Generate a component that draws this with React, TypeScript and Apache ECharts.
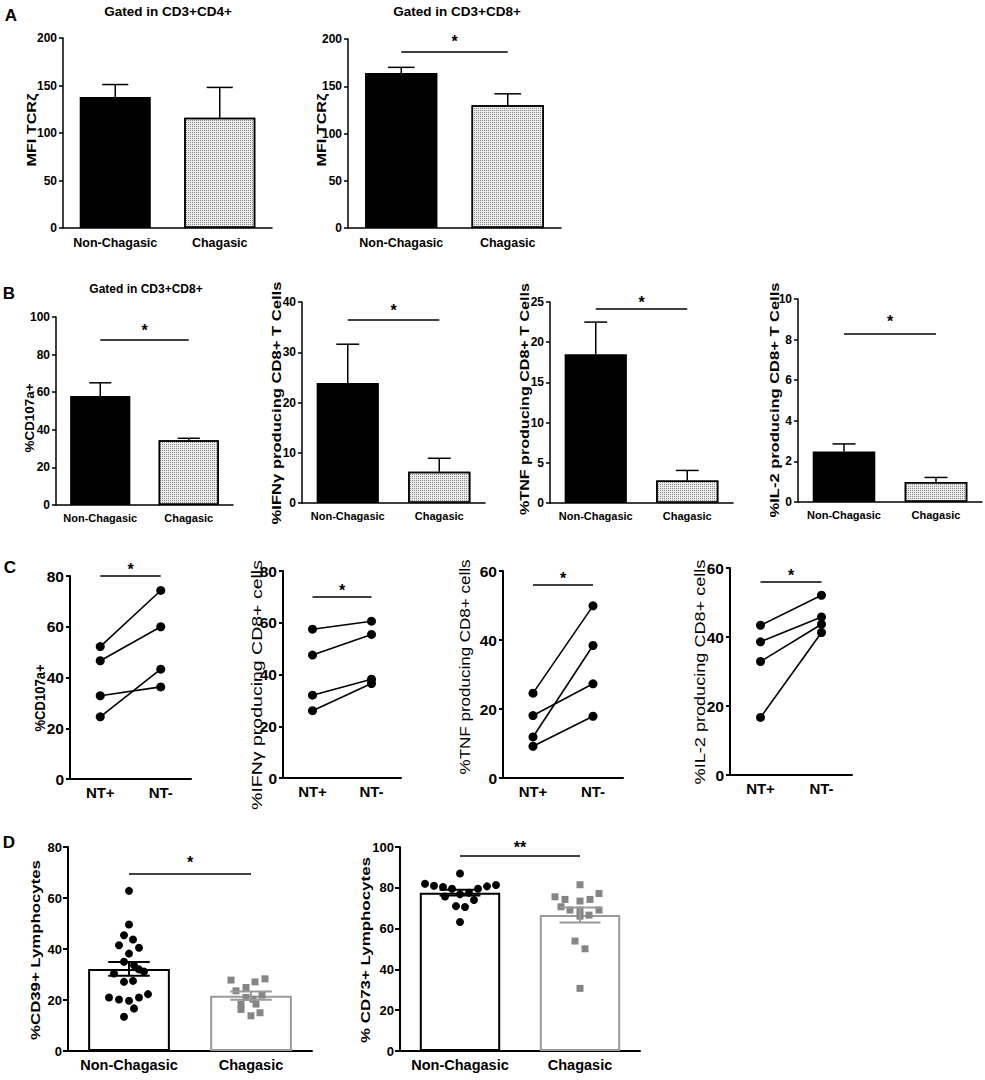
import React, { useEffect, useRef } from "react";
import * as echarts from "echarts";

// ---------------- DATA ----------------
const groups = ["Non-Chagasic", "Chagasic"];
const pairs = ["NT+", "NT-"];

// Panel A: MFI TCRζ
const tcrCD4Mean = [138, 116];
const tcrCD4Err = [13, 32];
const tcrCD8Mean = [164, 130];
const tcrCD8Err = [6, 12];
const tcrCD8Sig = 186;

// Panel B
const cd107Mean = [58, 34.5];
const cd107Err = [7, 1];
const cd107Sig = 88;
const ifnMean = [23.9, 6.2];
const ifnErr = [7.7, 2.7];
const ifnSig = 36.5;
const tnfMean = [18.5, 2.8];
const tnfErr = [4.0, 1.25];
const tnfSig = 24.1;
const il2Mean = [2.49, 0.98];
const il2Err = [0.37, 0.23];
const il2Sig = 8.3;

// Panel C (paired, NT+ -> NT-)
const cCd107Plus = [52.2, 46.6, 32.8, 24.5];
const cCd107Minus = [74.3, 60.0, 36.3, 43.3];
const cCd107Sig = 80;
const cIfnPlus = [57.5, 47.5, 32.0, 26.0];
const cIfnMinus = [60.6, 55.5, 38.2, 36.5];
const cIfnSig = 70;
const cTnfPlus = [24.6, 18.1, 11.9, 9.2];
const cTnfMinus = [49.9, 27.3, 38.4, 17.9];
const cTnfSig = 56;
const cIl2Plus = [43.4, 38.6, 32.9, 16.7];
const cIl2Minus = [52.1, 45.8, 43.7, 41.3];
const cIl2Sig = 56;

// Panel D
const cd39NonChagasic = [62.8, 49.6, 45.4, 43.7, 41.5, 40.5, 38.2, 35.0, 33.6, 32.0, 31.2, 30.4, 27.1, 27.5, 21.0, 20.2, 19.7, 21.0, 22.3, 16.7, 13.4];
const cd39Chagasic = [27.8, 27.1, 28.3, 24.9, 23.6, 21.9, 21.0, 20.3, 18.4, 18.4, 16.3, 15.0, 13.8];
const cd39Mean = [32.2, 21.7];
const cd39Sem = [2.7, 1.6];
const cd39Sig = 69.7;
const cd73NonChagasic = [87.0, 82.0, 81.0, 80.4, 79.5, 79.5, 80.7, 81.4, 76.8, 77.6, 75.7, 74.0, 71.0, 70.6, 63.2];
const cd73Chagasic = [81.5, 75.6, 74.3, 74.3, 73.5, 77.2, 70.7, 69.1, 69.1, 66.6, 69.1, 66.1, 53.9, 50.1, 30.7];
const cd73Mean = [77.6, 66.7];
const cd73Sem = [1.4, 3.7];
const cd73Sig = 95.8;

// ---------------- LAYOUT / STYLE (not data) ----------------
// horizontal jitter of swarm points, in px
const jitCd39Non = [0, 0, -5, 4, -10, 10, 0, -5, 5, 10, 15, -15, -5, 4, -20, -10, 0, 10, 19, 5, -5];
const jitCd39Cha = [-20, 4, 14, -5, -15, 11, -5, 2, -10, 5, -10, 9, 0];
const jitCd73Non = [0, -35, -26, -17, -8, 18, 27, 36, 0, 9, -15, 14, -4, 5, 0];
const jitCd73Cha = [0, -25, -15, 10, 0, 19, -19, -10, 0, 9, 19, 0, -5, 5, 0];

const NARROW = "'Liberation Sans Narrow', 'Arial Narrow', 'Liberation Sans', Arial, sans-serif";
const SANS = "'Liberation Sans', Arial, Helvetica, sans-serif";

const gridBoxes = [
  [63, 38, 209, 190], // A1
  [348, 39, 213, 189], // A2
  [56, 317, 177, 188], // B1
  [302, 302, 183, 201], // B2
  [550, 302, 183, 201], // B3
  [798, 299, 184, 203], // B4
  [70, 576, 121, 203], // C1
  [283, 571, 118, 207], // C2
  [503, 571, 120, 207], // C3
  [730, 568, 122, 207], // C4
  [68, 847, 244, 204], // D1
  [400, 847, 240, 204], // D2
];

const rowStyle: any = {
  A: { tick: 12, cat: 12.5, lw: 1.5, catMargin: 8, tickLen: 4 },
  B: { tick: 12, cat: 11, lw: 1.5, catMargin: 7, tickLen: 4 },
  C: { tick: 15.5, cat: 15, lw: 2, catMargin: 6, tickLen: 4 },
  D: { tick: 13, cat: 14.5, lw: 2, catMargin: 6, tickLen: 5 },
};

const yTitles = [
  { text: "MFI TCRζ", cx: 32, cy: 130, len: 73, size: 12, weight: "bold" },
  { text: "MFI TCRζ", cx: 322, cy: 130, len: 73, size: 12, weight: "bold" },
  { text: "%CD107a+", cx: 30, cy: 418, len: 69, size: 12, weight: "bold" },
  { text: "%IFNγ producing CD8+ T Cells", cx: 277, cy: 403, len: 243, size: 12, weight: "bold" },
  { text: "%TNF producing CD8+ T Cells", cx: 525, cy: 399, len: 232, size: 12, weight: "bold" },
  { text: "%IL-2 producing CD8+ T Cells", cx: 775, cy: 400, len: 235, size: 12, weight: "bold" },
  { text: "%CD107a+", cx: 40, cy: 698, len: 67, size: 14, weight: "bold" },
  { text: "%IFNγ producing CD8+ cells", cx: 257, cy: 685, len: 250, size: 14, weight: "normal" },
  { text: "%TNF producing CD8+ cells", cx: 465, cy: 667, len: 215, size: 14, weight: "normal" },
  { text: "%IL-2 producing CD8+ cells", cx: 700, cy: 672, len: 225, size: 14, weight: "normal" },
  { text: "%CD39+ Lymphocytes", cx: 35, cy: 950, len: 180, size: 13, weight: "bold" },
  { text: "% CD73+ Lymphocytes", cx: 365, cy: 950, len: 186, size: 13, weight: "bold" },
];

const hTexts = [
  { text: "A", x: 11, y: 15, size: 17, family: SANS },
  { text: "B", x: 9, y: 293, size: 17, family: SANS },
  { text: "C", x: 10, y: 567, size: 17, family: SANS },
  { text: "D", x: 9, y: 842, size: 17, family: SANS },
  { text: "Gated in CD3+CD4+", x: 168, y: 11, size: 13.5, family: NARROW },
  { text: "Gated in CD3+CD8+", x: 457, y: 11, size: 13.5, family: NARROW },
  { text: "Gated in CD3+CD8+", x: 146, y: 289, size: 12, family: NARROW },
];

// ---------------- BUILDERS ----------------
function xAx(i: number, cats: string[], s: any) {
  return {
    type: "category",
    gridIndex: i,
    data: cats,
    axisLine: { lineStyle: { color: "#000", width: s.lw } },
    axisTick: { alignWithLabel: true, length: s.tickLen, lineStyle: { color: "#000", width: s.lw } },
    axisLabel: { interval: 0, color: "#000", fontFamily: NARROW, fontWeight: "bold", fontSize: s.cat, margin: s.catMargin },
    splitLine: { show: false },
  };
}

function yAx(i: number, max: number, interval: number, s: any) {
  return {
    type: "value",
    gridIndex: i,
    min: 0,
    max,
    interval,
    axisLine: { show: true, lineStyle: { color: "#000", width: s.lw } },
    axisTick: { show: true, length: s.tickLen, lineStyle: { color: "#000", width: s.lw } },
    axisLabel: { color: "#000", fontFamily: NARROW, fontWeight: "bold", fontSize: s.tick, margin: 6 },
    splitLine: { show: false },
  };
}

function sigLine(cats: string[], y: number, stars: string, dist: number) {
  return {
    silent: true,
    symbol: ["none", "none"],
    lineStyle: { color: "#000", width: 1.6, type: "solid" },
    emphasis: { disabled: true },
    label: {
      show: true,
      position: "insideMiddleTop",
      formatter: stars,
      color: "#000",
      fontSize: 16,
      fontFamily: SANS,
      fontWeight: "bold",
      distance: dist,
    },
    data: [[{ coord: [cats[0], y] }, { coord: [cats[1], y] }]],
  };
}

const patternFill = {
  color: "#ececec",
  borderColor: "#000",
  borderWidth: 1.5,
  decal: {
    symbol: "rect",
    symbolSize: 1,
    color: "rgba(0,0,0,0.42)",
    dashArrayX: [1, 1],
    dashArrayY: [1, 1],
    rotation: 0,
  },
};

function solidBars(i: number, means: number[], sig: number | null, dist: number) {
  const s: any = {
    type: "bar",
    xAxisIndex: i,
    yAxisIndex: i,
    barWidth: "68%",
    z: 2,
    data: means.map((v, k) => ({
      value: v,
      itemStyle: k === 0 ? { color: "#000", borderColor: "#000", borderWidth: 1.5 } : patternFill,
    })),
  };
  if (sig !== null) s.markLine = sigLine(groups, sig, "*", dist);
  return s;
}

function errBars(i: number, means: number[], errs: number[], both: boolean, capFrac: number, colors: string[], lw: number) {
  return {
    type: "custom",
    xAxisIndex: i,
    yAxisIndex: i,
    z: 5,
    silent: true,
    data: means.map((m, k) => [k, m, errs[k]]),
    encode: { x: 0, y: 1 },
    renderItem: (params: any, api: any) => {
      const x = api.value(0);
      const m = api.value(1);
      const e = api.value(2);
      const c = api.coord([x, m]);
      const t = api.coord([x, m + e]);
      const b = api.coord([x, m - e]);
      const band = api.size([1, 0])[0];
      const half = (band * capFrac) / 2;
      const st = { stroke: colors[x], lineWidth: lw };
      const children: any[] = [
        { type: "line", shape: { x1: c[0], y1: both ? b[1] : c[1], x2: c[0], y2: t[1] }, style: st },
        { type: "line", shape: { x1: c[0] - half, y1: t[1], x2: c[0] + half, y2: t[1] }, style: st },
      ];
      if (both) {
        children.push({ type: "line", shape: { x1: c[0] - half, y1: b[1], x2: c[0] + half, y2: b[1] }, style: st });
      }
      return { type: "group", children };
    },
  };
}

function pairedLines(i: number, before: number[], after: number[], sig: number, dist: number) {
  return before.map((b, k) => {
    const s: any = {
      type: "line",
      xAxisIndex: i,
      yAxisIndex: i,
      data: [b, after[k]],
      symbol: "circle",
      symbolSize: 9,
      showSymbol: true,
      z: 3,
      lineStyle: { color: "#000", width: 1.6 },
      itemStyle: { color: "#000" },
    };
    if (k === 0) s.markLine = sigLine(pairs, sig, "*", dist);
    return s;
  });
}

function openBars(i: number, means: number[], sig: number, stars: string, dist: number) {
  return {
    type: "bar",
    xAxisIndex: i,
    yAxisIndex: i,
    barWidth: "67%",
    z: 2,
    data: means.map((v, k) => ({
      value: v,
      itemStyle: { color: "#fff", borderColor: k === 0 ? "#000" : "#9a9a9a", borderWidth: 2 },
    })),
    markLine: sigLine(groups, sig, stars, dist),
  };
}

function swarm(i: number, cat: number, values: number[], jit: number[], symbol: string, size: number, color: string) {
  return {
    type: "scatter",
    xAxisIndex: i,
    yAxisIndex: i,
    z: 4,
    symbol,
    symbolSize: size,
    itemStyle: { color, opacity: 1 },
    data: values.map((v, k) => ({ value: [cat, v], symbolOffset: [jit[k], 0] })),
  };
}

function measure(text: string, size: number, weight: string) {
  const ctx = document.createElement("canvas").getContext("2d");
  if (!ctx) return text.length * size * 0.55;
  ctx.font = `${weight} ${size}px ${SANS}`;
  return ctx.measureText(text).width;
}

function buildOption() {
  const rows = ["A", "A", "B", "B", "B", "B", "C", "C", "C", "C", "D", "D"];
  const grid = gridBoxes.map(([l, t, w, h]) => ({ left: l, top: t, width: w, height: h, containLabel: false }));
  const xAxis = rows.map((r, i) => xAx(i, r === "C" ? pairs : groups, rowStyle[r]));
  const yMax = [
    [200, 50], [200, 50], [100, 20], [40, 10], [25, 5], [10, 2],
    [80, 20], [80, 20], [60, 20], [60, 20], [80, 20], [100, 20],
  ];
  const yAxis = rows.map((r, i) => yAx(i, yMax[i][0], yMax[i][1], rowStyle[r]));

  const black2 = ["#000", "#000"];
  const dCols = ["#000", "#9a9a9a"];
  const series: any[] = [
    solidBars(0, tcrCD4Mean, null, 0),
    errBars(0, tcrCD4Mean, tcrCD4Err, false, 0.25, black2, 1.5),
    solidBars(1, tcrCD8Mean, tcrCD8Sig, 2.5),
    errBars(1, tcrCD8Mean, tcrCD8Err, false, 0.25, black2, 1.5),
    solidBars(2, cd107Mean, cd107Sig, 1.5),
    errBars(2, cd107Mean, cd107Err, false, 0.25, black2, 1.5),
    solidBars(3, ifnMean, ifnSig, 1.5),
    errBars(3, ifnMean, ifnErr, false, 0.25, black2, 1.5),
    solidBars(4, tnfMean, tnfSig, -1),
    errBars(4, tnfMean, tnfErr, false, 0.25, black2, 1.5),
    solidBars(5, il2Mean, il2Sig, 4),
    errBars(5, il2Mean, il2Err, false, 0.25, black2, 1.5),
    ...pairedLines(6, cCd107Plus, cCd107Minus, cCd107Sig, -1),
    ...pairedLines(7, cIfnPlus, cIfnMinus, cIfnSig, -2),
    ...pairedLines(8, cTnfPlus, cTnfMinus, cTnfSig, -2),
    ...pairedLines(9, cIl2Plus, cIl2Minus, cIl2Sig, -2),
    openBars(10, cd39Mean, cd39Sig, "*", 2.5),
    swarm(10, 0, cd39NonChagasic, jitCd39Non, "circle", 8, "#000"),
    swarm(10, 1, cd39Chagasic, jitCd39Cha, "rect", 7, "#858585"),
    errBars(10, cd39Mean, cd39Sem, true, 0.34, dCols, 2),
    openBars(11, cd73Mean, cd73Sig, "**", 0),
    swarm(11, 0, cd73NonChagasic, jitCd73Non, "circle", 8, "#000"),
    swarm(11, 1, cd73Chagasic, jitCd73Cha, "rect", 7, "#858585"),
    errBars(11, cd73Mean, cd73Sem, true, 0.34, dCols, 2),
  ];

  const graphic: any[] = [];
  yTitles.forEach((t) => {
    const w = measure(t.text, t.size, t.weight);
    graphic.push({
      type: "text",
      x: t.cx,
      y: t.cy,
      rotation: Math.PI / 2,
      scaleX: t.len / w,
      silent: true,
      style: {
        text: t.text,
        fontSize: t.size,
        fontFamily: SANS,
        fontWeight: t.weight,
        fill: "#000",
        align: "center",
        verticalAlign: "middle",
        textAlign: "center",
        textVerticalAlign: "middle",
      },
    });
  });
  hTexts.forEach((t) => {
    graphic.push({
      type: "text",
      x: t.x,
      y: t.y,
      silent: true,
      style: {
        text: t.text,
        fontSize: t.size,
        fontFamily: t.family,
        fontWeight: "bold",
        fill: "#000",
        align: "center",
        verticalAlign: "middle",
        textAlign: "center",
        textVerticalAlign: "middle",
      },
    });
  });

  return {
    animation: false,
    backgroundColor: "#fff",
    grid,
    xAxis,
    yAxis,
    series,
    graphic,
  };
}

export default function App() {
  const ref = useRef<HTMLDivElement>(null);
  useEffect(() => {
    if (!ref.current) return;
    const chart = echarts.init(ref.current, null, { renderer: "svg" });
    chart.setOption(buildOption() as any);
    return () => chart.dispose();
  }, []);
  return (
    <div
      ref={ref}
      style={{ position: "fixed", left: 0, top: 0, width: 985, height: 1080, background: "#fff" }}
    />
  );
}
